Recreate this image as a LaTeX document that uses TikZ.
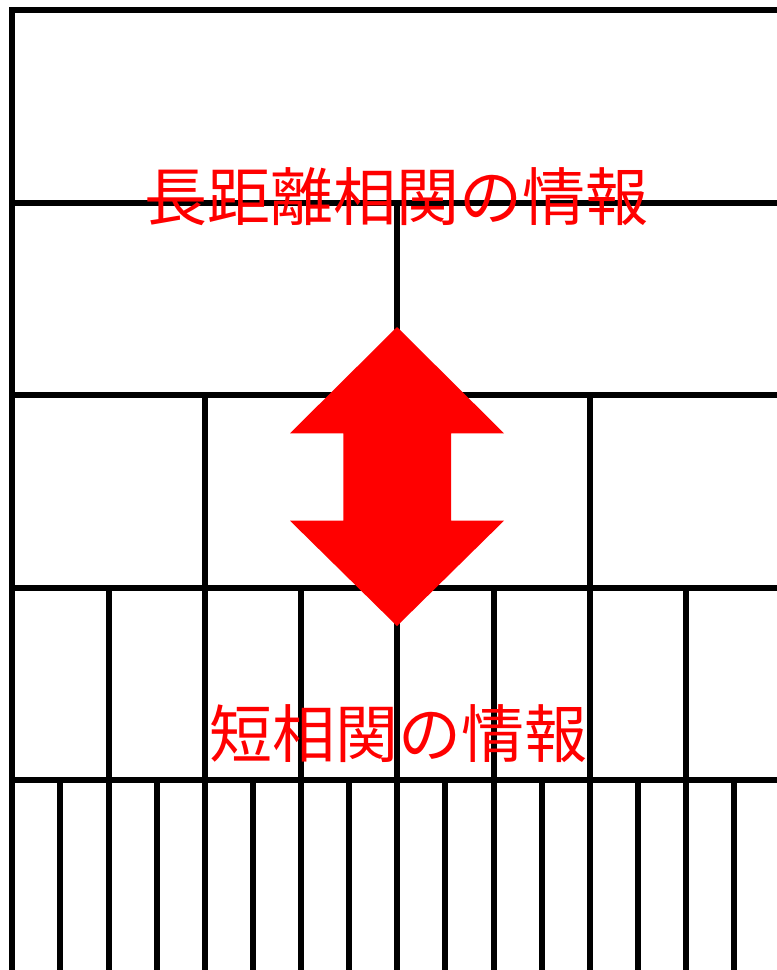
\documentclass[tikz,border=0pt]{standalone}
\usepackage{fontspec}
\newfontfamily\jpfont{Noto Sans CJK JP}
\begin{document}
\begin{tikzpicture}[x=1pt,y=-1pt,
  gridline/.style={line width=6pt,black,line join=round,line cap=rect},
  label/.style={text=red,font=\jpfont\fontsize{63}{63}\selectfont,inner sep=0pt},
  bigarrow/.style={fill=red,draw=none}]
\useasboundingbox (0,0) rectangle (777,970);
% horizontal lines
\foreach \y in {10,202.5,395,587.5,780,972.5}
  \draw[gridline] (12.3,\y) -- (790,\y);
% left border
\draw[gridline] (12.3,10) -- (12.3,980);
% row 2
\draw[gridline] (397.3,202.5) -- (397.3,395);
% row 3
\foreach \x in {204.8,589.8}
  \draw[gridline] (\x,395) -- (\x,587.5);
% row 4
\foreach \i in {1,...,7}
  \draw[gridline] ({12.3+96.25*\i},587.5) -- ({12.3+96.25*\i},780);
% row 5
\foreach \i in {1,...,15}
  \draw[gridline] ({12.3+48.125*\i},780) -- ({12.3+48.125*\i},980);
% double arrow
\fill[bigarrow] (397,327) -- (504,433.3) -- (451,433.3) -- (451,520.7) -- (504,520.7)
  -- (397,626) -- (290,520.7) -- (343.3,520.7) -- (343.3,433.3) -- (290,433.3) -- cycle;
% labels
\node[label] (long) at (396.5,197) {長距離相関の情報};
\node[label] (short) at (398,734) {短相関の情報};
\end{tikzpicture}
\end{document}
